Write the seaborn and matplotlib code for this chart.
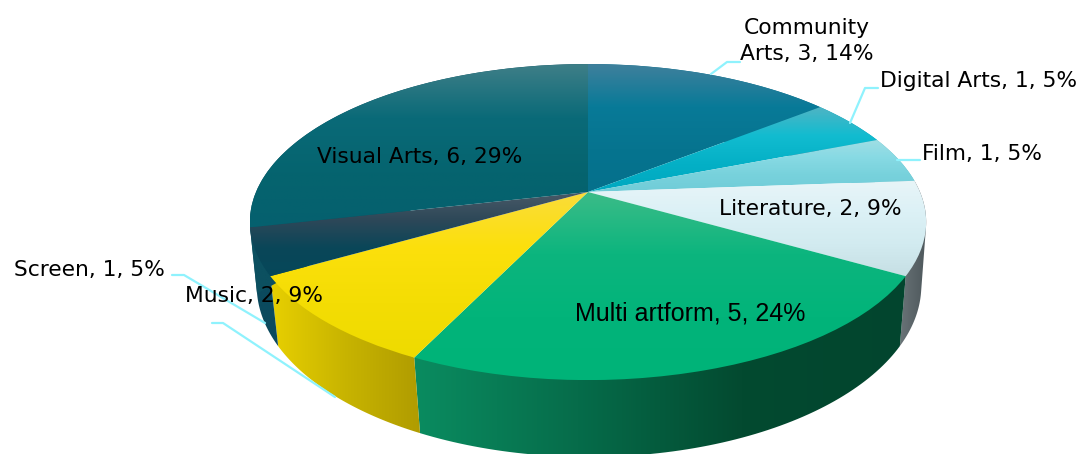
import numpy as np
import matplotlib
matplotlib.use("Agg")
import matplotlib.pyplot as plt
from matplotlib.patches import Polygon
from matplotlib.transforms import Transform
import seaborn as sns

# ---- data ----
categories = ["Community Arts", "Digital Arts", "Film", "Literature",
              "Multi artform", "Music", "Screen", "Visual Arts"]
values = [3, 1, 1, 2, 5, 2, 1, 6]
percents = [14, 5, 5, 9, 24, 9, 5, 29]

# ---- styles ----
top_stops = [
    ["#3f809c", "#087a98", "#06748f", "#05708c"],
    ["#4fb4c4", "#12bcd0", "#04b0c6", "#00a8c0"],
    ["#a0dee4", "#88dae4", "#78d2dc", "#70ccd8"],
    ["#e8f5f8", "#dcf1f6", "#d2ebf0", "#c6dfe4"],
    ["#3cbc88", "#0cb57e", "#02b47a", "#00b378"],
    ["#fadc3a", "#fce00c", "#f4dd04", "#eedb00"],
    ["#4a5a68", "#2e4858", "#0a4658", "#06485a"],
    ["#3f7f88", "#0a6a78", "#05646f", "#05606e"],
]
wall_stops = [
    ["#06708c", "#06708c"],
    ["#04a0b8", "#04a0b8"],
    ["#60bcc8", "#60bcc8"],
    ["#6a7478", "#5a6468", "#4e585c"],
    ["#0a8c60", "#066c4a", "#034a30", "#02452e"],
    ["#e8d000", "#c8b400", "#b09c00"],
    ["#0b4a5e", "#0b4a5e"],
    ["#0c5060", "#0c5060"],
]
leader_color = "#8ff2fd"
label_fonts = ["DejaVu Sans", "DejaVu Sans", "DejaVu Sans", "DejaVu Sans",
               "Liberation Sans", "DejaVu Sans", "DejaVu Sans", "DejaVu Sans"]
label_sizes = [15.7, 15.7, 15.7, 15.7, 18, 15.7, 15.7, 15.7]

# ---- layout ----
W, H = 1091, 454
top_geom = dict(cx=588, cy=192, A=332, B=152.3, p=0.19)
bot_geom = dict(cx=589, cy=255, A=327, B=166, p=0.178)
label_pos = [(807, 41), (979, 81), (982, 154), (810, 209),
             (690, 314), (254, 296), (89, 270), (420, 157)]
leaders = [
    [(711, 74), (727, 62), (740, 62)],
    [(850, 123), (865, 88), (878, 88)],
    [(897, 160), (920, 160)],
    [(172, 275), (184, 275), (265, 323)],
    [(212, 323), (223, 323), (335, 397)],
]


class DiskProjection(Transform):
    """Perspective view of the unit pie disk, in pixel coordinates."""
    input_dims = output_dims = 2
    is_separable = False
    has_inverse = False

    def __init__(self, cx, cy, A, B, p):
        super().__init__()
        self.g = (cx, cy, A, B, p)

    def transform_non_affine(self, xy):
        cx, cy, A, B, p = self.g
        xy = np.asarray(xy, float)
        d = 1 + p * xy[:, 1]
        return np.column_stack([cx + A * xy[:, 0] / d, cy - B * xy[:, 1] / d])


def convex_hull(points):
    pts = sorted(map(tuple, points))

    def half(seq):
        out = []
        for q in seq:
            while len(out) > 1 and ((out[-1][0] - out[-2][0]) * (q[1] - out[-2][1])
                                    - (out[-1][1] - out[-2][1]) * (q[0] - out[-2][0])) <= 0:
                out.pop()
            out.append(q)
        return out[:-1]

    return np.array(half(pts) + half(pts[::-1]))


sns.set_theme(style="white")
plt.rcParams["font.family"] = ["DejaVu Sans"]

fig, ax = plt.subplots(figsize=(W / 100, H / 100), dpi=100)
fig.subplots_adjust(0, 0, 1, 1)
wedges, _ = ax.pie(values, startangle=90, counterclock=False, radius=1)

ax.set_aspect("auto")
ax.set_xlim(0, W)
ax.set_ylim(H, 0)
ax.axis("off")

top = DiskProjection(**top_geom)
bot = DiskProjection(**bot_geom)
grad = np.linspace(0, 1, 256)


def shade(stops, clip, extent, horizontal):
    cmap = sns.blend_palette(stops, as_cmap=True)
    img = grad.reshape(1, -1) if horizontal else grad.reshape(-1, 1)
    im = ax.imshow(img, cmap=cmap, extent=extent, aspect="auto",
                   origin="upper", zorder=clip.get_zorder(), interpolation="bilinear")
    im.set_clip_path(clip)
    return im


# side walls
for w, stops in zip(wedges, wall_stops):
    t = np.radians(np.linspace(w.theta1, w.theta2, 80))
    circ = np.column_stack([np.cos(t), np.sin(t)])
    poly = convex_hull(np.vstack([top.transform(circ), bot.transform(circ)]))
    clip = Polygon(poly, closed=True, transform=ax.transData,
                   fc="none", ec="none", zorder=1)
    ax.add_patch(clip)
    shade(stops, clip, [poly[:, 0].min(), poly[:, 0].max(),
                        poly[:, 1].max(), poly[:, 1].min()], True)

# top surface
for w, stops in zip(wedges, top_stops):
    t = np.radians(np.linspace(w.theta1, w.theta2, 80))
    circ = np.vstack([[0, 0], np.column_stack([np.cos(t), np.sin(t)])])
    poly = top.transform(circ)
    w.set_transform(top + ax.transData)
    w.set_facecolor("none")
    w.set_edgecolor("none")
    w.set_zorder(2)
    shade(stops, w, [poly[:, 0].min(), poly[:, 0].max(),
                     poly[:, 1].max(), poly[:, 1].min()], False)

ax.set_xlim(0, W)
ax.set_ylim(H, 0)

# leader lines
for pts in leaders:
    xs, ys = zip(*pts)
    ax.plot(xs, ys, color=leader_color, lw=1.6, zorder=3, solid_joinstyle="round")

# labels
for cat, v, pc, (x, y), fam, fs in zip(categories, values, percents, label_pos,
                                       label_fonts, label_sizes):
    s = f"{cat}, {v}, {pc}%"
    if cat == "Community Arts":
        s = f"Community\nArts, {v}, {pc}%"
    ax.text(x, y, s, ha="center", va="center", fontsize=fs, family=fam,
            color="black", zorder=4, linespacing=1.4)

fig.savefig("out.png", dpi=100)
